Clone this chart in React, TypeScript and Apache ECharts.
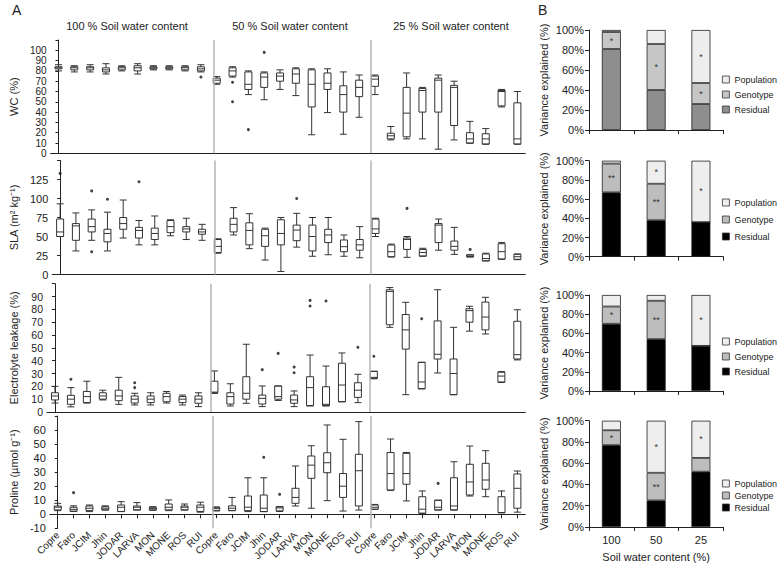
import React, { useEffect, useRef } from 'react';
import * as echarts from 'echarts';

const FONT = 'Liberation Sans, Arial, Helvetica, sans-serif';

const genotypes = ['Copre', 'Faro', 'JCIM', 'Jhin', 'JODAR', 'LARVA', 'MON', 'MONE', 'ROS', 'RUI'];
const treatments = ['100', '50', '25'];
const sectionTitles = ['100 % Soil water content', '50 % Soil water content', '25 % Soil water content'];
const categories = treatments.flatMap((t) => genotypes.map((g) => `${g}_${t}`));

// five-number summaries [min, Q1, median, Q3, max]
const wc100 = [[80, 82, 83, 84, 86], [79, 81, 83, 84, 85], [79, 81, 83, 84, 86], [77, 79, 81, 83, 87], [80, 81, 83, 84, 85], [77, 80, 83, 85, 87], [81, 82, 83, 84, 85], [81, 82, 83, 84, 85], [80, 81, 83, 84, 85], [79, 80, 82, 84, 86]];
const wc50 = [[67, 68, 71, 73, 74.5], [74, 75, 80, 83, 84], [57, 62, 67, 79, 80], [52, 64, 74, 78, 79], [62, 70, 75, 78, 81], [56, 68, 77, 82, 83], [18, 45, 67, 81, 82], [39.5, 62, 68, 78, 82], [18.5, 40, 57, 65.5, 79], [35, 55, 64, 71, 76]];
const wc25 = [[57, 65, 72, 75, 76], [13, 14, 17, 19.5, 26], [14, 16, 39, 64, 78], [14, 40, 61, 63, 64], [4, 40, 71, 73, 76], [13, 27, 64, 66, 70], [9.7, 10, 14, 20, 31], [8.8, 9, 14, 19, 24], [45, 46, 60, 61, 62], [8.8, 9, 14, 49, 60]];
const wcOutliers = [[9, 74], [11, 69], [11, 50], [12, 23], [13, 98]];

const sla100 = [[50, 50, 56, 73, 93], [31, 45, 64, 67, 81], [45, 56, 63, 73, 85], [31, 43, 54, 59.5, 82], [48, 59.5, 67, 75, 98], [39, 48, 58, 62, 71], [39, 46, 54, 61, 77], [51, 55, 63, 71, 72], [46, 56, 60, 63, 74], [45, 53, 56, 59.5, 66]];
const sla50 = [[28, 29, 37, 46, 47], [52, 56, 66, 74, 88], [34, 39, 58, 68, 80], [19, 37, 51, 59.5, 61], [4, 39, 54, 72, 75], [36, 44.5, 58.5, 65, 80.5], [24, 31, 50, 65, 75], [26, 42, 52, 59.5, 75], [24, 30, 36.6, 45.4, 52], [22, 32, 39, 46, 63]];
const sla25 = [[50, 54, 60, 73, 74], [23, 23.4, 30, 38.8, 40], [22.6, 33, 46, 48, 50], [24, 24.3, 29, 33, 34.5], [32, 42, 65, 67, 73], [26.5, 32, 37, 44, 62], [23, 23.4, 24, 25.7, 26], [17.8, 18, 21, 27, 28], [20, 20.4, 30, 40.5, 42], [19.5, 20, 23.4, 26.6, 27]];
const slaOutliers = [[0, 133], [2, 110], [2, 30], [3, 99], [5, 122], [15, 100], [22, 87], [26, 33]];

const el100 = [[7, 9.4, 12.5, 15, 20], [4, 6, 10, 13, 19], [7, 7.3, 12, 16, 24], [9.4, 10, 12.5, 15, 17], [6, 8.8, 12.5, 17, 27], [5.5, 7, 10, 12.5, 14.6], [5.5, 7.3, 10, 12.5, 15], [7, 8, 12, 14.6, 16], [5.5, 7.3, 10, 12, 13.2], [4.2, 6.8, 10, 12.5, 15]];
const el50 = [[14.5, 15, 15.5, 24, 32], [4.7, 6.2, 12, 15, 22], [6.8, 10, 14.6, 27.5, 52.8], [4.2, 6.2, 10.6, 13.2, 20.3], [9, 10, 12, 20.3, 20.3], [4.2, 6.8, 9.4, 13.2, 16.4], [4.7, 5, 19, 27.5, 44.4], [4.7, 5, 6, 19.7, 35.8], [8, 8, 21, 38, 46], [7.3, 11.4, 17, 22.8, 29.4]];
const el25 = [[26, 26, 27, 31.7, 31.7], [66, 68, 94, 95.3, 97], [13.5, 49, 64, 76, 85.5], [18, 18.2, 23.4, 38.7, 38.7], [30.4, 41.3, 45, 71, 95.3], [13.5, 13.5, 30, 41.3, 66], [63, 70, 79, 80.5, 82.4], [60.8, 64, 74, 85.7, 89.4], [23, 23.4, 28, 31, 31.5], [40.6, 41.3, 44.7, 70.7, 79.7]];
const elOutliers = [[1, 25.5], [5, 22.8], [5, 19], [13, 33], [14, 45.7], [15, 35], [15, 30.6], [16, 87], [16, 82.6], [17, 86.5], [19, 50.4], [20, 43.4], [23, 72.7]];

const pro100 = [[2.6, 3.1, 5, 5.9, 7.8], [2, 2.2, 3.5, 5, 6], [1.9, 2.6, 4.3, 5.9, 6.6], [3, 3.1, 4.3, 5.4, 6], [1.9, 2, 5, 6.6, 9], [3, 3.1, 5, 5.9, 8.3], [2.8, 3.1, 4, 5, 5.4], [2.6, 3.1, 5, 7.3, 10.2], [3, 3.1, 5, 5.9, 7.3], [1.5, 2, 5, 6.6, 8.6]];
const pro50 = [[2.4, 2.6, 4, 5, 5.2], [2.6, 2.6, 4.3, 6, 12], [1.9, 2.6, 5, 13, 26], [1.9, 1.9, 4.3, 13.7, 26], [2, 2.4, 4.5, 5.4, 5.4], [5.9, 7.8, 12, 18.5, 34.4], [4.3, 25.6, 35, 41.5, 48.8], [9.7, 29.6, 36.7, 43.8, 63.6], [2.3, 12, 20, 29, 53.4], [3, 5.9, 31, 42.7, 66]];
const pro25 = [[3.5, 3.6, 5, 6.6, 7], [17, 17.3, 29, 44, 53.6], [9.5, 21.4, 29, 43.4, 44], [0.7, 0.7, 3.6, 12.5, 16.6], [3, 3.1, 5, 10, 10], [3, 3.1, 5.9, 26, 37.4], [13, 13.7, 23, 35.6, 48.6], [12.5, 17.8, 24.4, 36.3, 45.3], [1.1, 1.1, 1.2, 12.5, 16.6], [1.5, 4.3, 18.5, 28.7, 30.8]];
const proOutliers = [[1, 15.4], [13, 40.6], [14, 14.2], [24, 22]];

// Panel B: variance explained (%)
const varCats = ['100', '50', '25'];
const wcResidual = [81, 40, 26];
const wcGenotype = [17, 46, 21];
const wcPopulation = [2, 14, 53];
const slaResidual = [67, 38, 36];
const slaGenotype = [30, 38, 0];
const slaPopulation = [3, 24, 64];
const elResidual = [70, 54, 47];
const elGenotype = [18, 40, 0];
const elPopulation = [12, 6, 53];
const proResidual = [77, 25, 52];
const proGenotype = [14, 26, 13];
const proPopulation = [9, 49, 35];
const wcGenoStars = ['*', '*', '*'];
const wcPopStars = ['', '', '*'];
const slaGenoStars = ['**', '**', ''];
const slaPopStars = ['', '*', '*'];
const elGenoStars = ['*', '**', ''];
const elPopStars = ['', '', '*'];
const proGenoStars = ['*', '**', ''];
const proPopStars = ['', '*', '*'];

function buildOption() {
  const rowsA = [
    { name: 'WC (%)', min: 0, max: 110, interval: 10, data: [...wc100, ...wc50, ...wc25], out: wcOutliers, top: 40, height: 113.3, fs: 10 },
    { name: 'SLA (m² kg⁻¹)', min: 0, max: 150, interval: 25, data: [...sla100, ...sla50, ...sla25], out: slaOutliers, top: 160.5, height: 114, fs: 11 },
    { name: 'Electrolyte leakage (%)', min: 0, max: 100, interval: 10, data: [...el100, ...el50, ...el25], out: elOutliers, top: 283.7, height: 128.3, fs: 10.5 },
    { name: 'Proline (µmol g⁻¹)', min: -10, max: 70, interval: 10, data: [...pro100, ...pro50, ...pro25], out: proOutliers, top: 416, height: 112.3, fs: 11 },
  ];
  const rowsB = [
    { res: wcResidual, gen: wcGenotype, pop: wcPopulation, gs: wcGenoStars, ps: wcPopStars, colors: ['#8e8e8e', '#c6c6c6', '#ededed'], top: 30, height: 100, legendTop: 75, gap: 6 },
    { res: slaResidual, gen: slaGenotype, pop: slaPopulation, gs: slaGenoStars, ps: slaPopStars, colors: ['#000000', '#bdbdbd', '#eeeeee'], top: 160.7, height: 96, legendTop: 198, gap: 8 },
    { res: elResidual, gen: elGenotype, pop: elPopulation, gs: elGenoStars, ps: elPopStars, colors: ['#000000', '#bdbdbd', '#eeeeee'], top: 295, height: 96, legendTop: 337, gap: 6 },
    { res: proResidual, gen: proGenotype, pop: proPopulation, gs: proGenoStars, ps: proPopStars, colors: ['#000000', '#bdbdbd', '#eeeeee'], top: 420.7, height: 107.6, legendTop: 479, gap: 3 },
  ];

  const grid: any[] = [];
  const xAxis: any[] = [];
  const yAxis: any[] = [];
  const series: any[] = [];
  const legend: any[] = [];
  const axisLineStyle = { color: '#222', width: 1 };
  const labelStyle = { fontFamily: FONT, fontSize: 11, color: '#222' };

  rowsA.forEach((r) => {
    grid.push({ left: 45.3, width: 480, top: r.top, height: r.height });
  });
  rowsB.forEach((r) => {
    grid.push({ left: 589, width: 134.3, top: r.top, height: r.height });
  });

  // category x axes for panel A (0..3)
  rowsA.forEach((r, i) => {
    const last = i === 3;
    xAxis.push({
      type: 'category', gridIndex: i, data: categories, boundaryGap: true,
      axisLine: { show: true, lineStyle: axisLineStyle },
      axisTick: { show: last, alignWithLabel: true, length: 4, lineStyle: axisLineStyle },
      axisLabel: { show: last, rotate: 45, interval: 0, margin: 5, fontFamily: FONT, fontSize: 10, color: '#222', formatter: (v: string) => v.split('_')[0] },
      splitLine: { show: false },
    });
  });
  // hidden value x axes for separators (4..7)
  rowsA.forEach((r, i) => {
    xAxis.push({ type: 'value', gridIndex: i, min: -0.5, max: 29.5, show: false, splitLine: { show: false } });
  });
  // panel B x axes (8..11)
  rowsB.forEach((r, j) => {
    const last = j === 3;
    xAxis.push({
      type: 'category', gridIndex: 4 + j, data: varCats, boundaryGap: true,
      axisLine: { show: true, lineStyle: axisLineStyle },
      axisTick: { show: true, length: 4, lineStyle: axisLineStyle },
      axisLabel: { show: last, margin: 7, ...labelStyle },
      name: last ? 'Soil water content (%)' : '', nameLocation: 'middle', nameGap: 24,
      nameTextStyle: { ...labelStyle },
    });
  });

  rowsA.forEach((r, i) => {
    yAxis.push({
      type: 'value', gridIndex: i, min: r.min, max: r.max, interval: r.interval,
      axisLine: { show: true, lineStyle: axisLineStyle },
      axisTick: { show: true, length: 3, lineStyle: axisLineStyle },
      axisLabel: { margin: 4, ...labelStyle, fontSize: r.fs, lineHeight: r.fs, formatter: (v: number) => (v === r.max ? '' : String(v)) },
      splitLine: { show: false },
      name: r.name, nameLocation: 'middle', nameGap: 28, nameTextStyle: { ...labelStyle },
    });
  });
  rowsB.forEach((r, j) => {
    yAxis.push({
      type: 'value', gridIndex: 4 + j, min: 0, max: 100, interval: 20,
      axisLine: { show: true, lineStyle: axisLineStyle },
      axisTick: { show: true, length: 4, lineStyle: axisLineStyle },
      axisLabel: { margin: 5, ...labelStyle, formatter: '{value}%' },
      splitLine: { show: false },
      name: 'Variance explained (%)', nameLocation: 'middle', nameGap: 40, nameTextStyle: { ...labelStyle },
    });
  });

  rowsA.forEach((r, i) => {
    series.push({
      type: 'boxplot', xAxisIndex: i, yAxisIndex: i, data: r.data, boxWidth: [7, 7],
      itemStyle: { color: '#ffffff', borderColor: '#333', borderWidth: 1 },
      silent: true,
    });
    series.push({
      type: 'scatter', xAxisIndex: i, yAxisIndex: i, data: r.out, symbolSize: 3,
      itemStyle: { color: '#111' }, silent: true,
    });
    series.push({
      type: 'line', xAxisIndex: 4 + i, yAxisIndex: i, data: [],
      markLine: {
        silent: true, symbol: ['none', 'none'], label: { show: false },
        lineStyle: { color: '#b5b5b5', width: 1.5, type: 'solid' },
        data: [{ xAxis: 9.78 }, { xAxis: 19.73 }],
      },
    });
  });

  const names = ['Residual', 'Genotype', 'Population'];
  rowsB.forEach((r, j) => {
    const vals = [r.res, r.gen, r.pop];
    const stars = [null, r.gs, r.ps];
    names.forEach((n, k) => {
      series.push({
        type: 'bar', name: n, xAxisIndex: 8 + j, yAxisIndex: 4 + j, stack: 'v' + j, barWidth: 19,
        itemStyle: { color: r.colors[k], borderColor: '#222', borderWidth: 0.8 },
        data: vals[k].map((v, c) => {
          const s = stars[k] ? (stars[k] as string[])[c] : '';
          return s
            ? { value: v, label: { show: true, position: 'inside', formatter: s, fontSize: 9, color: '#333', fontFamily: FONT } }
            : { value: v };
        }),
        silent: true,
      });
    });
    legend.push({
      orient: 'vertical', left: 722, top: r.legendTop, itemWidth: 7, itemHeight: 7, itemGap: r.gap,
      icon: 'rect', selectedMode: false, padding: 0,
      textStyle: { fontFamily: FONT, fontSize: 9, color: '#222' },
      data: ['Population', 'Genotype', 'Residual'].map((n) => ({
        name: n,
        itemStyle: { color: r.colors[names.indexOf(n)], borderColor: '#333', borderWidth: 0.8 },
      })),
    });
  });

  const titleXs = [127, 290, 451];
  const graphic: any[] = [
    { type: 'text', left: 12, top: 3, style: { text: 'A', fontFamily: FONT, fontSize: 14, fill: '#222' } },
    { type: 'text', left: 538, top: 3, style: { text: 'B', fontFamily: FONT, fontSize: 14, fill: '#222' } },
    ...sectionTitles.map((t, i) => ({
      type: 'text', x: titleXs[i], y: 26, style: { text: t, fontFamily: FONT, fontSize: 11, fill: '#222', textAlign: 'center', textVerticalAlign: 'middle' },
    })),
  ];

  return {
    animation: false,
    backgroundColor: '#ffffff',
    textStyle: { fontFamily: FONT },
    grid, xAxis, yAxis, series, legend, graphic,
  };
}

export default function App() {
  const ref = useRef<HTMLDivElement>(null);
  useEffect(() => {
    const chart = echarts.init(ref.current!, null, { renderer: 'svg' });
    chart.setOption(buildOption() as any);
    return () => chart.dispose();
  }, []);
  return <div ref={ref} style={{ position: 'fixed', left: 0, top: 0, width: 777, height: 563, background: '#fff' }} />;
}
